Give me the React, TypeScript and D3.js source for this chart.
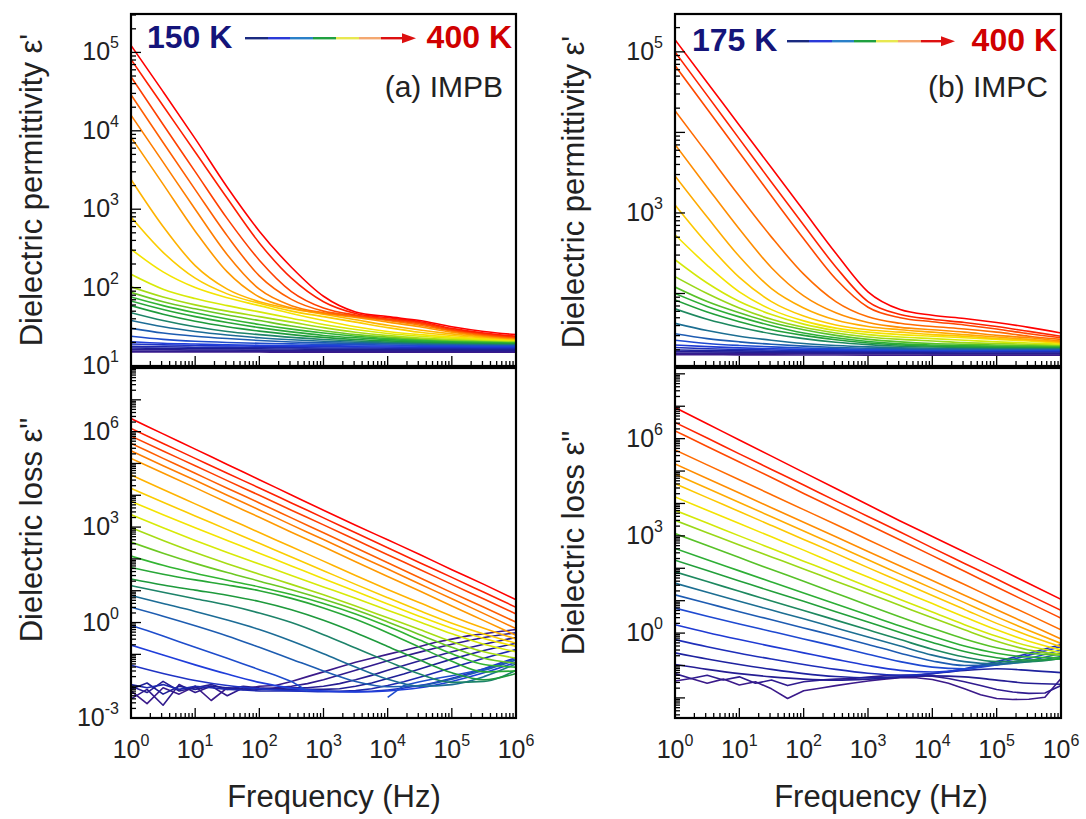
import React from 'react';
import * as d3 from 'd3';

// log10(frequency / Hz) grids
const LF = [0, 0.5, 1, 1.5, 2, 2.5, 3, 3.5, 4, 4.5, 5, 5.5, 6];
const LF_FINE = [0, 0.25, 0.5, 0.75, 1, 1.25, 1.5, 1.75, 2, 2.25, 2.5, 2.75, 3, 3.25, 3.5, 3.75, 4, 4.25, 4.5, 4.75, 5, 5.25, 5.5, 5.75, 6];

// log10(eps') IMPB, 150 K (row 0) -> 400 K (row 25)
const PERM_IMPB: (number | null)[][] = [
  [1.18, 1.18, 1.18, 1.178, 1.178, 1.176, 1.176, 1.175, 1.175, 1.175, 1.175, 1.175, 1.175],
  [1.19, 1.19, 1.19, 1.19, 1.188, 1.188, 1.186, 1.186, 1.185, 1.185, 1.185, 1.185, 1.185],
  [1.21, 1.21, 1.205, 1.205, 1.2, 1.2, 1.2, 1.2, 1.198, 1.198, 1.196, 1.196, 1.195],
  [1.23, 1.225, 1.22, 1.22, 1.218, 1.216, 1.215, 1.215, 1.214, 1.213, 1.212, 1.21, 1.21],
  [1.25, 1.245, 1.24, 1.238, 1.235, 1.232, 1.23, 1.23, 1.228, 1.227, 1.226, 1.225, 1.225],
  [1.28, 1.27, 1.262, 1.256, 1.252, 1.248, 1.246, 1.244, 1.242, 1.24, 1.24, 1.238, 1.236],
  [1.31, 1.29, 1.28, 1.27, 1.265, 1.26, 1.258, 1.256, 1.255, 1.254, 1.252, 1.25, 1.25],
  [1.38, 1.34, 1.315, 1.3, 1.29, 1.282, 1.276, 1.272, 1.268, 1.265, 1.262, 1.26, 1.26],
  [1.48, 1.42, 1.38, 1.35, 1.325, 1.307, 1.295, 1.288, 1.282, 1.278, 1.274, 1.27, 1.268],
  [1.58, 1.5, 1.44, 1.395, 1.36, 1.335, 1.315, 1.302, 1.294, 1.288, 1.283, 1.28, 1.277],
  [1.68, 1.58, 1.5, 1.44, 1.4, 1.365, 1.338, 1.318, 1.305, 1.297, 1.291, 1.287, 1.284],
  [1.77, 1.66, 1.57, 1.5, 1.445, 1.4, 1.365, 1.338, 1.32, 1.308, 1.3, 1.295, 1.291],
  [1.83, 1.72, 1.63, 1.555, 1.49, 1.435, 1.39, 1.36, 1.337, 1.32, 1.31, 1.303, 1.298],
  [1.88, 1.77, 1.68, 1.6, 1.53, 1.47, 1.42, 1.38, 1.352, 1.333, 1.32, 1.311, 1.305],
  [1.94, 1.82, 1.73, 1.65, 1.58, 1.51, 1.45, 1.4, 1.368, 1.345, 1.33, 1.32, 1.312],
  [2.01, 1.88, 1.78, 1.7, 1.63, 1.56, 1.49, 1.43, 1.387, 1.358, 1.34, 1.328, 1.318],
  [2.17, 1.98, 1.86, 1.77, 1.69, 1.61, 1.53, 1.465, 1.415, 1.38, 1.355, 1.337, 1.325],
  [2.49, 2.2, 2.0, 1.87, 1.77, 1.67, 1.58, 1.5, 1.44, 1.4, 1.37, 1.347, 1.332],
  [2.9, 2.45, 2.12, 1.92, 1.8, 1.7, 1.63, 1.56, 1.49, 1.43, 1.39, 1.36, 1.338],
  [3.38, 2.78, 2.28, 1.98, 1.82, 1.73, 1.66, 1.59, 1.52, 1.46, 1.41, 1.37, 1.345],
  [3.92, 3.32, 2.72, 2.2, 1.88, 1.74, 1.67, 1.62, 1.56, 1.5, 1.43, 1.38, 1.35],
  [4.2, 3.6, 3.0, 2.42, 1.98, 1.77, 1.68, 1.63, 1.58, 1.52, 1.445, 1.39, 1.355],
  [4.46, 3.85, 3.25, 2.66, 2.15, 1.85, 1.7, 1.64, 1.59, 1.535, 1.455, 1.4, 1.36],
  [4.69, 4.08, 3.48, 2.88, 2.35, 1.95, 1.74, 1.65, 1.6, 1.55, 1.465, 1.41, 1.37],
  [4.91, 4.32, 3.73, 3.14, 2.57, 2.12, 1.82, 1.67, 1.615, 1.565, 1.48, 1.42, 1.38],
  [5.09, 4.5, 3.9, 3.28, 2.72, 2.26, 1.89, 1.69, 1.63, 1.58, 1.5, 1.44, 1.4],
];

// log10(eps'') IMPB; rows with 25 values use LF_FINE, null = not measured
const LOSS_IMPB: (number | null)[][] = [
  [-2.15, -2.55, -2.05, -2.25, -2.0, -2.45, -2.05, -2.1, -2.0, -1.98, -1.85, -1.7, -1.55, -1.4, -1.25, -1.12, -1.0, -0.88, -0.75, -0.62, -0.52, -0.42, -0.35, -0.28, -0.22],
  [-2.4, -2.1, -2.6, -1.95, -2.2, -2.0, -2.3, -2.05, -2.1, -2.05, -2.0, -1.92, -1.8, -1.65, -1.5, -1.35, -1.2, -1.06, -0.93, -0.8, -0.68, -0.57, -0.47, -0.39, -0.32],
  [-2.0, -2.2, -1.85, -2.15, -2.05, -1.95, -2.1, -2.0, -2.05, -2.08, -2.05, -2.05, -2.0, -1.92, -1.8, -1.66, -1.5, -1.35, -1.2, -1.06, -0.92, -0.8, -0.68, -0.57, -0.47],
  [-2.1, -1.9, -2.25, -2.0, -2.1, -2.0, -2.05, -2.1, -2.08, -2.1, -2.1, -2.1, -2.1, -2.08, -2.0, -1.9, -1.76, -1.62, -1.46, -1.3, -1.15, -1.01, -0.88, -0.76, -0.65],
  [-1.95, -2.05, -1.95, -2.1, -2.0, -2.05, -2.1, -2.12, -2.15, -2.15, -2.15, -2.16, -2.16, -2.16, -2.14, -2.08, -1.98, -1.86, -1.72, -1.57, -1.42, -1.27, -1.12, -0.98, -0.85],
  [-1.34, -1.6, -1.82, -1.98, -2.08, -2.14, -2.17, -2.17, -2.12, -1.98, -1.75, -1.45, -1.1],
  [-0.71, -1.02, -1.33, -1.62, -1.88, -2.06, -2.15, -2.18, -2.15, -2.05, -1.85, -1.58, -1.25],
  [-0.09, -0.25, -0.42, -0.6, -0.78, -0.95, -1.12, -1.3, -1.48, -1.66, -1.85, -2.15, null, null, null, null, -2.35, -1.98, -1.86, -1.76, -1.67, -1.57, -1.46, -1.32, -1.13],
  [0.48, 0.2, -0.1, -0.42, -0.78, -1.15, -1.52, -1.85, -2.02, -1.98, -1.78, -1.5, -1.18],
  [0.85, 0.6, 0.35, 0.08, -0.22, -0.58, -0.98, -1.4, -1.78, -2.0, -1.95, -1.7, -1.3],
  [1.16, 0.95, 0.75, 0.55, 0.3, 0.0, -0.38, -0.8, -1.22, -1.62, -1.88, -1.85, -1.5],
  [1.37, 1.18, 1.02, 0.86, 0.66, 0.4, 0.07, -0.32, -0.75, -1.18, -1.58, -1.8, -1.6],
  [1.73, 1.52, 1.34, 1.18, 1.0, 0.76, 0.46, 0.1, -0.32, -0.78, -1.22, -1.55, -1.52],
  [2.09, 1.8, 1.55, 1.33, 1.12, 0.88, 0.6, 0.27, -0.12, -0.55, -0.98, -1.32, -1.4],
  [2.53, 2.18, 1.86, 1.57, 1.3, 1.03, 0.73, 0.4, 0.02, -0.38, -0.78, -1.12, -1.28],
  [2.98, 2.58, 2.2, 1.85, 1.52, 1.2, 0.87, 0.52, 0.15, -0.22, -0.6, -0.92, -1.12],
  [3.39, 2.98, 2.58, 2.2, 1.84, 1.48, 1.12, 0.76, 0.39, 0.02, -0.35, -0.68, -0.92],
  [3.81, 3.39, 2.98, 2.58, 2.18, 1.78, 1.38, 0.98, 0.58, 0.19, -0.18, -0.5, -0.75],
  [4.22, 3.78, 3.35, 2.92, 2.49, 2.06, 1.63, 1.2, 0.78, 0.37, -0.02, -0.36, -0.65],
  [4.64, 4.18, 3.73, 3.28, 2.83, 2.38, 1.93, 1.48, 1.04, 0.62, 0.2, -0.18, -0.52],
  [5.16, 4.7, 4.24, 3.77, 3.31, 2.84, 2.38, 1.91, 1.45, 0.99, 0.52, 0.06, -0.4],
  [5.4, 4.93, 4.47, 4.0, 3.54, 3.07, 2.61, 2.14, 1.68, 1.21, 0.75, 0.28, -0.19],
  [5.63, 5.16, 4.69, 4.22, 3.76, 3.29, 2.82, 2.35, 1.88, 1.41, 0.94, 0.48, 0.01],
  [5.86, 5.39, 4.93, 4.46, 4.0, 3.53, 3.07, 2.6, 2.13, 1.67, 1.2, 0.74, 0.27],
  [6.1, 5.63, 5.16, 4.69, 4.23, 3.76, 3.29, 2.82, 2.35, 1.88, 1.42, 0.95, 0.48],
  [6.41, 5.93, 5.45, 4.97, 4.49, 4.01, 3.53, 3.06, 2.6, 2.14, 1.66, 1.2, 0.72],
];

// log10(eps') IMPC, 175 K (row 0) -> 400 K (row 22)
const PERM_IMPC: (number | null)[][] = [
  [1.24, 1.24, 1.238, 1.238, 1.236, 1.236, 1.235, 1.235, 1.235, 1.235, 1.235, 1.235, 1.235],
  [1.26, 1.258, 1.256, 1.255, 1.254, 1.253, 1.252, 1.252, 1.251, 1.25, 1.25, 1.25, 1.25],
  [1.28, 1.275, 1.272, 1.27, 1.268, 1.266, 1.265, 1.264, 1.263, 1.262, 1.262, 1.262, 1.262],
  [1.3, 1.293, 1.288, 1.284, 1.281, 1.279, 1.277, 1.276, 1.275, 1.274, 1.274, 1.273, 1.273],
  [1.33, 1.315, 1.305, 1.298, 1.293, 1.29, 1.288, 1.287, 1.286, 1.285, 1.285, 1.285, 1.285],
  [1.36, 1.34, 1.325, 1.314, 1.306, 1.3, 1.297, 1.295, 1.294, 1.293, 1.293, 1.293, 1.293],
  [1.42, 1.38, 1.355, 1.337, 1.323, 1.313, 1.306, 1.302, 1.3, 1.3, 1.3, 1.3, 1.3],
  [1.5, 1.44, 1.4, 1.37, 1.347, 1.33, 1.32, 1.313, 1.31, 1.31, 1.31, 1.31, 1.31],
  [1.63, 1.54, 1.47, 1.42, 1.38, 1.355, 1.338, 1.327, 1.32, 1.318, 1.318, 1.318, 1.318],
  [1.81, 1.68, 1.58, 1.5, 1.44, 1.395, 1.365, 1.345, 1.335, 1.33, 1.328, 1.327, 1.327],
  [1.92, 1.77, 1.65, 1.55, 1.48, 1.425, 1.385, 1.36, 1.347, 1.34, 1.337, 1.335, 1.335],
  [2.0, 1.84, 1.71, 1.6, 1.51, 1.45, 1.405, 1.375, 1.36, 1.352, 1.347, 1.344, 1.342],
  [2.08, 1.9, 1.76, 1.64, 1.55, 1.48, 1.43, 1.4, 1.38, 1.37, 1.36, 1.355, 1.35],
  [2.21, 2.0, 1.82, 1.68, 1.58, 1.51, 1.46, 1.43, 1.41, 1.39, 1.38, 1.37, 1.36],
  [2.42, 2.13, 1.9, 1.74, 1.62, 1.54, 1.49, 1.46, 1.44, 1.42, 1.4, 1.385, 1.37],
  [2.73, 2.35, 2.02, 1.8, 1.66, 1.57, 1.52, 1.49, 1.47, 1.45, 1.43, 1.41, 1.38],
  [3.1, 2.62, 2.2, 1.9, 1.72, 1.61, 1.55, 1.52, 1.49, 1.47, 1.44, 1.42, 1.39],
  [3.46, 2.95, 2.46, 2.06, 1.82, 1.67, 1.59, 1.55, 1.52, 1.49, 1.46, 1.43, 1.4],
  [3.85, 3.32, 2.8, 2.32, 1.97, 1.76, 1.64, 1.58, 1.55, 1.52, 1.48, 1.45, 1.41],
  [4.27, 3.74, 3.21, 2.7, 2.24, 1.9, 1.71, 1.63, 1.59, 1.56, 1.52, 1.47, 1.43],
  [4.83, 4.29, 3.75, 3.21, 2.68, 2.18, 1.83, 1.7, 1.65, 1.61, 1.56, 1.5, 1.45],
  [5.0, 4.46, 3.92, 3.38, 2.85, 2.33, 1.9, 1.74, 1.68, 1.64, 1.59, 1.53, 1.47],
  [5.15, 4.62, 4.09, 3.56, 3.03, 2.5, 2.02, 1.8, 1.73, 1.69, 1.64, 1.58, 1.51],
];

// log10(eps'') IMPC
const LOSS_IMPC: (number | null)[][] = [
  [-1.48, -1.4, -1.55, -1.42, -1.6, -1.5, -1.72, -2.02, -1.78, -1.7, -1.62, -1.55, -1.48, -1.42, -1.38, -1.38, -1.43, -1.55, -1.72, -1.9, -2.02, -2.05, -2.04, -1.98, -1.4],
  [-1.25, -1.4, -1.3, -1.45, -1.35, -1.55, -1.45, -1.62, -1.5, -1.45, -1.42, -1.4, -1.36, -1.32, -1.3, -1.3, -1.33, -1.4, -1.5, -1.62, -1.74, -1.82, -1.86, -1.85, -1.62],
  [-0.97, -1.12, -1.25, -1.35, -1.42, -1.45, -1.42, -1.36, -1.32, -1.35, -1.45, -1.55, -1.58],
  [-0.61, -0.8, -0.97, -1.12, -1.25, -1.34, -1.38, -1.35, -1.25, -1.15, -1.1, -1.15, -1.22],
  [-0.2, -0.42, -0.62, -0.8, -0.97, -1.12, -1.24, -1.3, -1.25, -1.1, -0.88, -0.62, -0.36],
  [0.26, 0.02, -0.2, -0.41, -0.61, -0.81, -1.0, -1.15, -1.2, -1.12, -0.93, -0.68, -0.42],
  [0.77, 0.52, 0.28, 0.05, -0.18, -0.41, -0.65, -0.88, -1.05, -1.1, -0.98, -0.78, -0.52],
  [1.18, 0.92, 0.66, 0.41, 0.16, -0.09, -0.35, -0.62, -0.86, -1.0, -0.98, -0.85, -0.62],
  [1.54, 1.26, 0.98, 0.71, 0.44, 0.16, -0.12, -0.4, -0.68, -0.88, -0.95, -0.88, -0.72],
  [1.89, 1.59, 1.29, 0.99, 0.7, 0.4, 0.1, -0.2, -0.5, -0.74, -0.88, -0.88, -0.78],
  [2.25, 1.93, 1.61, 1.29, 0.98, 0.66, 0.34, 0.02, -0.29, -0.57, -0.76, -0.83, -0.8],
  [2.61, 2.26, 1.92, 1.58, 1.24, 0.9, 0.56, 0.22, -0.1, -0.4, -0.62, -0.74, -0.76],
  [3.07, 2.7, 2.33, 1.96, 1.6, 1.23, 0.86, 0.5, 0.15, -0.18, -0.45, -0.62, -0.68],
  [3.48, 3.1, 2.72, 2.35, 1.98, 1.6, 1.23, 0.85, 0.47, 0.1, -0.25, -0.52, -0.66],
  [3.79, 3.4, 3.0, 2.61, 2.22, 1.83, 1.43, 1.04, 0.65, 0.26, -0.1, -0.4, -0.6],
  [4.2, 3.79, 3.38, 2.97, 2.56, 2.14, 1.73, 1.32, 0.91, 0.5, 0.1, -0.25, -0.52],
  [4.61, 4.18, 3.75, 3.32, 2.89, 2.46, 2.02, 1.59, 1.16, 0.73, 0.3, -0.08, -0.42],
  [4.91, 4.47, 4.03, 3.59, 3.15, 2.71, 2.26, 1.82, 1.38, 0.94, 0.5, 0.08, -0.32],
  [5.22, 4.77, 4.32, 3.87, 3.42, 2.97, 2.52, 2.07, 1.62, 1.17, 0.72, 0.27, -0.18],
  [5.65, 5.19, 4.73, 4.27, 3.81, 3.35, 2.88, 2.42, 1.96, 1.5, 1.03, 0.57, 0.1],
  [6.24, 5.76, 5.28, 4.8, 4.31, 3.83, 3.35, 2.87, 2.39, 1.91, 1.42, 0.94, 0.46],
  [6.5, 6.02, 5.53, 5.05, 4.57, 4.08, 3.6, 3.12, 2.63, 2.15, 1.67, 1.18, 0.7],
  [6.96, 6.46, 5.96, 5.46, 4.96, 4.46, 3.96, 3.46, 2.98, 2.5, 2.02, 1.53, 1.04],
];

// axis tick exponents (log10)
const X_TICK_EXP = [0, 1, 2, 3, 4, 5, 6];
const PERM_IMPB_LABELS = [1, 2, 3, 4, 5];
const LOSS_IMPB_LABELS = [-3, 0, 3, 6];
const PERM_IMPC_LABELS = [3, 5];
const LOSS_IMPC_LABELS = [0, 3, 6];

const LEGEND_A = ['150 K', '400 K'];
const LEGEND_B = ['175 K', '400 K'];

const COLOR_STOPS = [0, 0.12, 0.25, 0.36, 0.44, 0.52, 0.6, 0.66, 0.74, 0.82, 0.92, 1];
const COLOR_RANGE = ['#3b1a8a', '#1e1e96', '#1f40e0', '#1c6c96', '#1e9a3c', '#32b432', '#a6dc14', '#f0f000', '#ffc000', '#ff8c00', '#ff4000', '#ff0000'];
const ARROW_COLORS = ['#1a2a80', '#2a3ad8', '#2a80c8', '#20a040', '#e8e850', '#f4a870', '#dd1010'];

const FONT = "'Liberation Sans', Arial, Helvetica, sans-serif";

const colorScale = d3.scaleLinear<string>().domain(COLOR_STOPS).range(COLOR_RANGE).interpolate(d3.interpolateRgb);

type PanelProps = {
  id: string;
  x0: number; x1: number; y0: number; y1: number;
  lo: number; hi: number;
  data: (number | null)[][];
  labels: number[];
  xLabels: boolean;
};

function Sup({ x, y, exp, anchor }: { x: number; y: number; exp: number; anchor: string }) {
  return (
    <text x={x} y={y} textAnchor={anchor} fontFamily={FONT} fontSize={25} fill="#222">
      <tspan>10</tspan>
      <tspan dy={-12} fontSize={16}>{exp < 0 ? '-' + Math.abs(exp) : String(exp)}</tspan>
    </text>
  );
}

function Panel({ id, x0, x1, y0, y1, lo, hi, data, labels, xLabels }: PanelProps) {
  const x = d3.scaleLog().domain([1, 1e6]).range([x0, x1]);
  const y = d3.scaleLog().domain([Math.pow(10, lo), Math.pow(10, hi)]).range([y1, y0]);
  const n = data.length;

  const xTicks: { v: number; major: boolean }[] = [];
  for (let k = 0; k < 6; k++) for (let m = 1; m <= 9; m++) xTicks.push({ v: m * Math.pow(10, k), major: m === 1 });
  xTicks.push({ v: 1e6, major: true });

  const yTicks: { v: number; major: boolean }[] = [];
  for (let k = Math.floor(lo); k <= Math.ceil(hi); k++)
    for (let m = 1; m <= 9; m++) {
      const v = m * Math.pow(10, k);
      const l = Math.log10(v);
      if (l >= lo - 1e-9 && l <= hi + 1e-9) yTicks.push({ v, major: m === 1 });
    }

  const paths = data.map((row, i) => {
    const grid = row.length === LF_FINE.length ? LF_FINE : LF;
    const pts: [number, number | null][] = row.map((v, j) => [grid[j], v]);
    const line = d3
      .line<[number, number | null]>()
      .defined((d) => d[1] !== null)
      .x((d) => x(Math.pow(10, d[0])))
      .y((d) => y(Math.pow(10, d[1] as number)))
      .curve(grid === LF_FINE ? d3.curveLinear : d3.curveMonotoneX);
    return <path key={i} d={line(pts) || ''} fill="none" stroke={colorScale(i / (n - 1))} strokeWidth={1.6} strokeLinejoin="round" />;
  });

  return (
    <g>
      <defs>
        <clipPath id={id}>
          <rect x={x0} y={y0} width={x1 - x0} height={y1 - y0} />
        </clipPath>
      </defs>
      <g clipPath={`url(#${id})`}>{paths}</g>
      {xTicks.map((t, i) => (
        <line key={'xt' + i} x1={x(t.v)} x2={x(t.v)} y1={y1} y2={y1 - (t.major ? 10 : 5)} stroke="#000" strokeWidth={1.3} />
      ))}
      {yTicks.map((t, i) => (
        <line key={'yt' + i} x1={x0} x2={x0 + (t.major ? 10 : 5)} y1={y(t.v)} y2={y(t.v)} stroke="#000" strokeWidth={1.3} />
      ))}
      <rect x={x0} y={y0} width={x1 - x0} height={y1 - y0} fill="none" stroke="#000" strokeWidth={2.2} />
      {labels.map((e) => (
        <Sup key={'yl' + e} x={x0 - 12} y={y(Math.pow(10, e)) + 8} exp={e} anchor="end" />
      ))}
      {xLabels &&
        X_TICK_EXP.map((e) => <Sup key={'xl' + e} x={x(Math.pow(10, e))} y={758} exp={e} anchor="middle" />)}
    </g>
  );
}

function Legend({ id, x0, x1, y, texts, lineX0, lineX1 }: { id: string; x0: number; x1: number; y: number; texts: string[]; lineX0: number; lineX1: number }) {
  const seg = d3.scaleLinear().domain([0, ARROW_COLORS.length]).range([lineX0, lineX1 - 12]);
  return (
    <g>
      <defs>
        <linearGradient id={id} gradientUnits="userSpaceOnUse" x1={lineX0} x2={lineX1 - 12} y1={0} y2={0}>
          {ARROW_COLORS.map((c, i) => [
            <stop key={'a' + i} offset={i / ARROW_COLORS.length} stopColor={c} />,
            <stop key={'b' + i} offset={(i + 1) / ARROW_COLORS.length} stopColor={c} />,
          ])}
        </linearGradient>
      </defs>
      <text x={x0} y={y} fontFamily={FONT} fontWeight="bold" fontSize={32} fill="#14147a">{texts[0]}</text>
      <rect x={seg(0)} y={y - 11} width={seg(ARROW_COLORS.length) - seg(0)} height={2.4} fill={`url(#${id})`} />
      <path d={`M${lineX1 - 14},${y - 14.8} L${lineX1},${y - 9.8} L${lineX1 - 14},${y - 4.8} Z`} fill="#dd1010" />
      <text x={x1} y={y} textAnchor="end" fontFamily={FONT} fontWeight="bold" fontSize={32} fill="#d00000">{texts[1]}</text>
    </g>
  );
}

export default function App() {
  const L = { x0: 131, x1: 516 };
  const R = { x0: 675, x1: 1061 };
  const T = { y0: 14, y1: 366 };
  const B = { y0: 368, y1: 718 };
  return (
    <svg width={1086} height={819} style={{ position: 'absolute', left: 0, top: 0, background: '#fff' }}>
      <rect x={0} y={0} width={1086} height={819} fill="#fff" />
      <Panel id="cpa" {...L} {...T} lo={1} hi={5.49} data={PERM_IMPB} labels={PERM_IMPB_LABELS} xLabels={false} />
      <Panel id="cla" {...L} {...B} lo={-3} hi={8} data={LOSS_IMPB} labels={LOSS_IMPB_LABELS} xLabels={true} />
      <Panel id="cpb" {...R} {...T} lo={1.1} hi={5.47} data={PERM_IMPC} labels={PERM_IMPC_LABELS} xLabels={false} />
      <Panel id="clb" {...R} {...B} lo={-2.62} hi={8.18} data={LOSS_IMPC} labels={LOSS_IMPC_LABELS} xLabels={true} />

      <Legend id="ga" x0={147} x1={512} y={48} texts={LEGEND_A} lineX0={245} lineX1={416} />
      <Legend id="gb" x0={692} x1={1057} y={51} texts={LEGEND_B} lineX0={787} lineX1={955} />

      <text x={503} y={97} textAnchor="end" fontFamily={FONT} fontSize={30} fill="#222">(a) IMPB</text>
      <text x={1048} y={97} textAnchor="end" fontFamily={FONT} fontSize={30} fill="#222">(b) IMPC</text>

      <text transform="translate(42,190) rotate(-90)" textAnchor="middle" fontFamily={FONT} fontSize={31} fill="#222">Dielectric permittivity ε'</text>
      <text transform="translate(42,530) rotate(-90)" textAnchor="middle" fontFamily={FONT} fontSize={31} fill="#222">Dielectric loss ε"</text>
      <text transform="translate(584,192) rotate(-90)" textAnchor="middle" fontFamily={FONT} fontSize={31} fill="#222">Dielectric permittivity ε'</text>
      <text transform="translate(584,543) rotate(-90)" textAnchor="middle" fontFamily={FONT} fontSize={31} fill="#222">Dielectric loss ε"</text>

      <text x={334} y={807} textAnchor="middle" fontFamily={FONT} fontSize={31} fill="#222">Frequency (Hz)</text>
      <text x={881} y={807} textAnchor="middle" fontFamily={FONT} fontSize={31} fill="#222">Frequency (Hz)</text>
    </svg>
  );
}
